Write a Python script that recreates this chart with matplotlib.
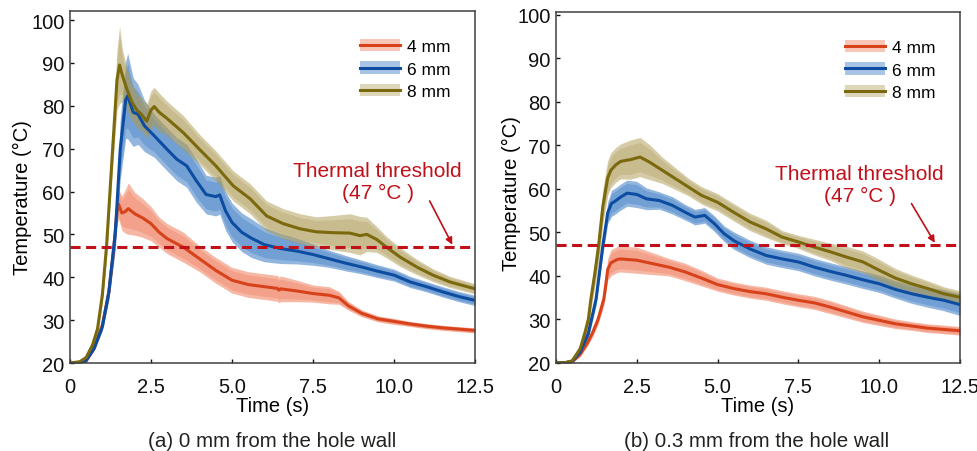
import numpy as np
import matplotlib
matplotlib.use("Agg")
import matplotlib.pyplot as plt
from matplotlib.patches import Patch
from matplotlib.lines import Line2D

plt.rcParams['font.family'] = ['Liberation Sans', 'DejaVu Sans']

# ---------------- data: panel (a) 0 mm from the hole wall ----------------
a4_t  = [0, 0.3, 0.5, 0.75, 1.0, 1.2, 1.35, 1.45, 1.5, 1.6, 1.7, 1.8, 2.0, 2.25, 2.5, 2.75, 3.0, 3.5, 4.0, 4.5, 5.0, 5.5, 6.0, 6.4, 6.45, 6.5, 7.0, 7.5, 8.0, 8.3, 8.6, 9.0, 9.5, 10.0, 10.5, 11.0, 11.5, 12.0, 12.5]
a4_m  = [20, 20.1, 20.5, 23.5, 28.9, 36.6, 46.7, 55.5, 57, 55, 55.3, 56, 54.8, 53.8, 52.5, 50.5, 49, 47, 44.3, 41.6, 39.3, 38.3, 37.8, 37.4, 37.0, 37.3, 36.8, 36.2, 35.8, 35.2, 33.3, 31.6, 30.3, 29.7, 29.1, 28.6, 28.2, 27.9, 27.6]
a4_sd = [0.2, 0.2, 0.3, 0.5, 1, 1.5, 2.5, 3, 3.5, 4, 5, 6, 5, 4.5, 4, 3.5, 3.5, 3.5, 3, 3, 3, 3, 3, 3, 3, 3, 2.5, 2, 2, 1.5, 1, 0.8, 0.7, 0.7, 0.6, 0.6, 0.6, 0.6, 0.6]

a6_t  = [0, 0.3, 0.5, 0.75, 1.0, 1.2, 1.4, 1.55, 1.72, 1.78, 1.95, 2.1, 2.3, 2.6, 3.0, 3.3, 3.6, 3.9, 4.2, 4.5, 4.62, 4.8, 5.0, 5.3, 5.6, 6.0, 6.5, 7.0, 7.5, 8.0, 8.5, 9.0, 9.5, 10.0, 10.5, 11.0, 11.5, 12.0, 12.5]
a6_m  = [20, 20.1, 20.6, 23.5, 28.5, 36.6, 50.5, 69.8, 81.4, 82.3, 78.5, 78, 75.3, 73, 69.8, 67.5, 66, 62.5, 59.3, 58.8, 59.2, 55.5, 52.8, 50.5, 49.1, 47.6, 46.7, 46.1, 45.3, 44.3, 43.3, 42.4, 41.4, 40.5, 38.9, 37.8, 36.6, 35.5, 34.6]
a6_sd = [0.2, 0.2, 0.3, 0.5, 1, 2, 4, 7, 9, 10, 8, 7, 6, 5, 5, 5, 5, 5, 4.5, 4.5, 4.5, 4.5, 4.5, 4.5, 4.5, 4, 3.5, 3, 2.5, 2, 1.8, 1.6, 1.5, 1.4, 1.3, 1.2, 1.2, 1.2, 1.2]

a8_t  = [0, 0.3, 0.5, 0.7, 0.85, 1.0, 1.13, 1.3, 1.45, 1.53, 1.62, 1.75, 1.9, 2.06, 2.2, 2.37, 2.5, 2.6, 2.75, 3.0, 3.5, 4.0, 4.5, 5.04, 5.56, 6.07, 6.58, 7.1, 7.6, 8.1, 8.64, 8.95, 9.16, 9.47, 9.77, 10.19, 10.7, 11.2, 11.73, 12.5]
a8_m  = [20, 20.3, 21.3, 24.3, 28, 36, 47.5, 68, 86, 89.5, 87, 84, 81, 79, 78, 76.4, 79, 79.8, 78.5, 77, 73.7, 69.8, 66, 61.3, 58.3, 54.3, 52.5, 51.3, 50.6, 50.4, 50.3, 49.7, 50, 48.8, 47, 44.7, 42.4, 40.5, 38.9, 37.3]
a8_sd = [0.3, 0.3, 0.5, 1, 1.5, 2, 3, 4, 7, 9, 6, 5, 4.5, 4, 4, 4, 4.5, 4.5, 4.5, 4, 4, 3.5, 3.5, 3.5, 3.5, 3.5, 3.5, 3.5, 3.5, 4, 4.5, 4.5, 4, 3, 2.5, 2.2, 1.8, 1.5, 1.3, 1.2]

# ---------------- data: panel (b) 0.3 mm from the hole wall ----------------
b4_t  = [0, 0.3, 0.5, 0.75, 1.0, 1.14, 1.3, 1.48, 1.55, 1.6, 1.7, 1.9, 2.0, 2.5, 3.0, 3.5, 4.0, 4.5, 5.0, 5.5, 6.0, 6.5, 7.0, 7.5, 8.0, 8.5, 9.0, 9.5, 10.0, 10.5, 11.0, 11.5, 12.0, 12.5]
b4_m  = [20, 20.1, 20.3, 22, 25, 27.1, 30, 34.7, 38.5, 41.5, 43, 43.8, 43.9, 43.6, 42.8, 42, 40.9, 39.5, 38, 37.1, 36.4, 35.9, 35.1, 34.4, 33.8, 32.8, 31.7, 30.6, 29.8, 29, 28.5, 28, 27.7, 27.4]
b4_sd = [0.2, 0.2, 0.3, 0.5, 0.8, 1, 1.2, 1.5, 2, 2.5, 3, 3, 3, 3, 2.5, 2, 2, 1.8, 1.5, 1.5, 1.5, 1.5, 1.5, 1.5, 1.5, 1.5, 1.4, 1.3, 1.2, 1.1, 1, 1, 1, 1]

b6_t  = [0, 0.3, 0.5, 0.75, 1.0, 1.24, 1.45, 1.6, 1.72, 1.8, 2.0, 2.2, 2.5, 2.8, 3.2, 3.6, 4.0, 4.3, 4.6, 4.9, 5.2, 5.5, 6.0, 6.5, 7.0, 7.5, 8.0, 8.5, 9.0, 9.5, 10.0, 10.5, 11.0, 11.5, 12.0, 12.5]
b6_m  = [20, 20.1, 20.4, 22.5, 26.8, 34.7, 47, 54.5, 56.7, 57, 58.1, 59, 58.7, 57.7, 57.3, 56.2, 54.6, 53.5, 53.9, 52, 49.7, 48.1, 46.2, 44.7, 43.9, 43.2, 42, 41, 40.1, 39.1, 38.2, 36.9, 35.9, 35.1, 34.4, 33.4]
b6_sd = [0.2, 0.2, 0.3, 0.5, 1, 1.5, 2, 2.5, 3, 3, 3, 3, 3, 2.5, 2, 2, 1.8, 1.8, 1.8, 1.8, 1.8, 2, 2, 2, 2, 2, 2, 2, 2, 2, 2, 2, 2.2, 2.3, 2.4, 2.5]

b8_t  = [0, 0.3, 0.5, 0.75, 0.9, 1.0, 1.08, 1.2, 1.32, 1.45, 1.6, 1.7, 1.85, 2.0, 2.3, 2.6, 2.9, 3.3, 3.7, 4.1, 4.5, 5.0, 5.5, 6.0, 6.5, 7.0, 7.5, 8.0, 8.5, 9.0, 9.5, 10.0, 10.5, 11.0, 11.5, 12.0, 12.5]
b8_m  = [20, 20.1, 20.5, 23.3, 27.1, 30, 34.7, 40.5, 47, 56, 62.5, 64.3, 65.5, 66.3, 66.7, 67.3, 66.1, 64.2, 62.3, 60.4, 58.5, 56.9, 54.6, 52.4, 50.8, 48.9, 47.8, 46.6, 45.5, 44.3, 43.2, 41.3, 39.5, 38.2, 37.1, 35.9, 35.1]
b8_sd = [0.2, 0.2, 0.4, 1, 1.5, 2, 2.5, 3, 3.5, 4, 4, 4, 4, 4, 4.5, 4.5, 4, 3, 2.5, 2, 2, 2, 2, 2, 2, 1.5, 1.5, 1.8, 2, 2.5, 2.5, 2.5, 2.2, 2, 1.8, 1.6, 1.5]

labels = ['4 mm', '6 mm', '8 mm']
line_colors = ['#D8421B', '#0D4DA1', '#7B690E']
fill_colors = ['#EF714D', '#286EBE', '#AD9951']

threshold = 47
xticks = [0, 2.5, 5.0, 7.5, 10.0, 12.5]
xticklabels = ['0', '2.5', '5.0', '7.5', '10.0', '12.5']
yticks = [20, 30, 40, 50, 60, 70, 80, 90, 100]
panel_titles = ['(a) 0 mm from the hole wall', '(b) 0.3 mm from the hole wall']

panels = [
    [(a4_t, a4_m, a4_sd), (a6_t, a6_m, a6_sd), (a8_t, a8_m, a8_sd)],
    [(b4_t, b4_m, b4_sd), (b6_t, b6_m, b6_sd), (b8_t, b8_m, b8_sd)],
]

fig = plt.figure(figsize=(9.78, 4.52), dpi=100)
W, H = 978, 452
axes_px = [(70, 12, 405, 352), (556, 13, 404, 351)]
ylims = [(20, 102.1), (20, 100.6)]
ylabel_xy = [(-0.118, 0.474), (-0.111, 0.487)]
text_pos = [(9.5, 62.3), (9.4, 61.0)]
arrow_pos = [((11.1, 57.8), (11.8, 47.6)), ((11.0, 56.6), (11.72, 47.6))]
title_x = [272, 757]

spine_color = '#404040'
thr_color = '#C0101A'

for i, series in enumerate(panels):
    x0, y0, w, h = axes_px[i]
    ax = fig.add_axes([x0 / W, 1 - (y0 + h) / H, w / W, h / H])
    for (t, m, sd), fc in zip(series, fill_colors):
        t = np.array(t); m = np.array(m); sd = np.array(sd)
        ax.fill_between(t, m - sd, m + sd, color=fc, alpha=0.5, linewidth=0)
        ax.fill_between(t, m - 0.75 * sd, m + 0.75 * sd, color=fc, alpha=0.3, linewidth=0)
    for (t, m, sd), lc in zip(series, line_colors):
        ax.plot(t, m, color=lc, lw=2.2, solid_joinstyle='round')
    ax.axhline(threshold, color=thr_color, lw=2.2, dashes=(3.3, 1.8))
    ax.set_xlim(0, 12.5)
    ax.set_ylim(*ylims[i])
    ax.set_xticks(xticks)
    ax.set_xticklabels(xticklabels)
    ax.set_yticks(yticks)
    ax.tick_params(direction='in', length=3, width=1, labelsize=14.5, colors='#111111',
                   top=False, right=False)
    ax.tick_params(axis='x', pad=10)
    ax.tick_params(axis='y', pad=4)
    for s in ax.spines.values():
        s.set_color(spine_color)
        s.set_linewidth(1.1)
    ax.set_xlabel('Time (s)', fontsize=14.5, labelpad=0)
    ax.set_ylabel('Temperature (°C)', fontsize=14.5, va='center')
    ax.yaxis.set_label_coords(*ylabel_xy[i])
    ax.text(text_pos[i][0], text_pos[i][1], 'Thermal threshold\n(47 °C )', color=thr_color,
            fontsize=15, ha='center', va='center', linespacing=1.15)
    ax.annotate('', xy=arrow_pos[i][1], xytext=arrow_pos[i][0],
                arrowprops=dict(arrowstyle='-|>', color=thr_color, lw=1.2,
                                mutation_scale=10, shrinkA=0, shrinkB=0))
    handles = []
    for lc, fc in zip(line_colors, fill_colors):
        handles.append((Patch(facecolor=fc, alpha=0.4, edgecolor='none'),
                        Line2D([], [], color=lc, lw=2.2)))
    ax.legend(handles, labels, loc='upper right', frameon=False, fontsize=12.5,
              handlelength=2.3, handleheight=0.7, handletextpad=0.4, labelspacing=0.42,
              borderaxespad=0.3, bbox_to_anchor=(0.97, 0.955))
    fig.text(title_x[i] / W, 1 - 442 / H, panel_titles[i], fontsize=14.8, ha='center',
             va='center', color='#222222')

fig.savefig('out.png', dpi=100)
